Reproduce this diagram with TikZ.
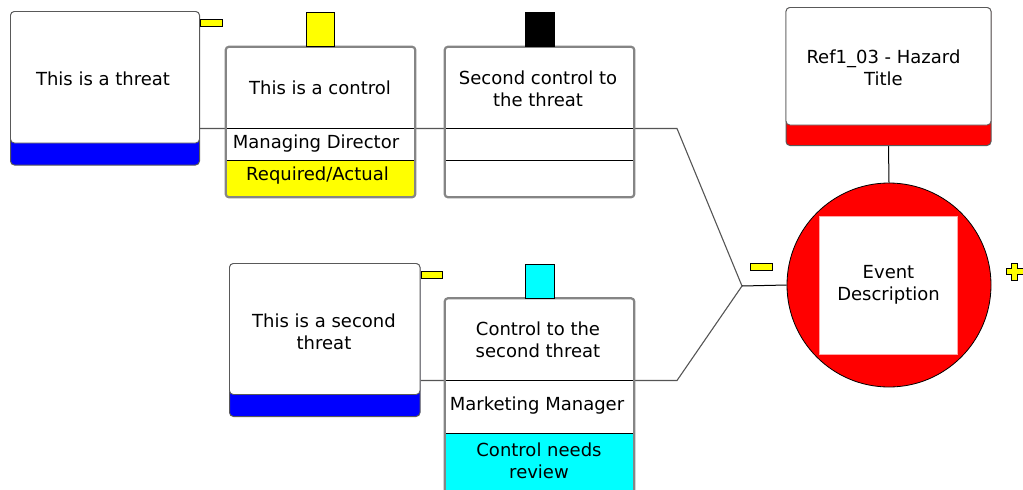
\documentclass[tikz,border=0pt]{standalone}
\usepackage{fontspec}
\setmainfont{DejaVu Sans}
\usetikzlibrary{backgrounds}
\definecolor{bord}{HTML}{858585}
\definecolor{conncol}{HTML}{555555}
\definecolor{cy}{HTML}{00FFFF}
\definecolor{ye}{HTML}{FFFF00}
\definecolor{bl}{HTML}{0000FF}
\definecolor{rd}{HTML}{FF0000}
\begin{document}
\begin{tikzpicture}[x=1pt,y=-1pt,
  txt/.style={align=center, inner sep=0, text=black, font=\fontsize{18}{22}\selectfont},
  conn/.style={draw=conncol, line width=1.1pt},
  boxfill/.style={rectangle, fill=white, draw=none, inner sep=0, rounded corners=3pt},
  ctrlborder/.style={draw=bord, line width=2.2pt, rounded corners=3pt},
  rowline/.style={draw=black, line width=1pt},
  tabst/.style={rectangle, draw=black, line width=0.8pt, inner sep=0},
  threatbox/.style={rectangle, rounded corners=4pt, draw=black!65, line width=1pt, inner sep=0},
  whitetop/.style={fill=white, draw=black!65, line width=0.8pt, rounded corners=4pt},
]
\useasboundingbox (0,0) rectangle (1023,490);
\clip (0,0) rectangle (1023,490);

% ---------- Threat 1 ----------
\node[threatbox, fill=bl, minimum width=189pt, minimum height=153.5pt] (t1) at (105,88.25) {};
\filldraw[whitetop] (10.5,11.5) rectangle (199.5,143);
\node[txt] (t1txt) at (103,79) {This is a threat};
\node[tabst, fill=ye, minimum width=22.5pt, minimum height=6.5pt] (t1tab) at (211.25,22.75) {};

% ---------- Threat 2 ----------
\node[threatbox, fill=bl, minimum width=190.5pt, minimum height=153pt] (t2) at (324.75,340) {};
\filldraw[whitetop] (229.5,263.5) rectangle (420,394.5);
\node[txt] (t2txt) at (324,331.5) {This is a second\\threat};
\node[tabst, fill=ye, minimum width=21pt, minimum height=7.5pt] (t2tab) at (431.5,274.75) {};

% ---------- Control 1 ----------
\node[boxfill, minimum width=189pt, minimum height=150pt] (c1) at (320.5,122) {};
\begin{scope}
  \clip[rounded corners=3pt] (226,47) rectangle (415,197);
  \fill[ye] (226,160) rectangle (415,197);
\end{scope}
\draw[rowline] (226,128.5) rectangle (415,160);
\draw[ctrlborder] (c1.north west) rectangle (c1.south east);
\node[tabst, fill=ye, minimum width=28pt, minimum height=34pt, anchor=south] (c1tab) at (c1.north) {};
\node[txt] (c1txt) at (320,88) {This is a control};
\node[txt] (c1own) at (316,144) {Managing Director};
\node[txt] (c1stat) at (317.5,176) {Required/Actual};

% ---------- Control 2 ----------
\node[boxfill, minimum width=189pt, minimum height=150pt] (c2) at (539.5,122) {};
\draw[rowline] (445,128.5) rectangle (634,160);
\draw[ctrlborder] (c2.north west) rectangle (c2.south east);
\node[tabst, fill=black, minimum width=29pt, minimum height=34pt, anchor=south] (c2tab) at (c2.north) {};
\node[txt] (c2txt) at (538,88.5) {Second control to\\the threat};

% ---------- Control 3 ----------
\node[boxfill, minimum width=189pt, minimum height=206.5pt] (c3) at (539.5,401.75) {};
\begin{scope}
  \clip[rounded corners=3pt] (445,298.5) rectangle (634,505);
  \fill[cy] (445,433.5) rectangle (634,505);
\end{scope}
\draw[rowline] (445,380.5) rectangle (634,433.5);
\draw[ctrlborder] (c3.north west) rectangle (c3.south east);
\node[tabst, fill=cy, minimum width=29pt, minimum height=34pt, anchor=south] (c3tab) at (c3.north) {};
\node[txt] (c3txt) at (538,340) {Control to the\\second threat};
\node[txt] (c3own) at (537,406) {Marketing Manager};
\node[txt] (c3stat) at (539,460.5) {Control needs\\review};

% ---------- Hazard ----------
\node[threatbox, fill=rd, minimum width=205pt, minimum height=138pt] (hz) at (888.5,76.5) {};
\filldraw[whitetop] (786,7.5) rectangle (991,125);
\node[txt] (hztxt) at (883.5,68) {Ref1\_03 - Hazard\\Title};

% ---------- Top event ----------
\node[circle, fill=rd, draw=black, line width=0.8pt, minimum size=204pt, inner sep=0] (ev) at (889,285) {};
\node[rectangle, fill=white, draw=rd!35, line width=0.8pt, minimum size=138pt, inner sep=0] (sq) at (888,285) {};
\node[txt] (evtxt) at (888.5,285) {Event\\Description};

% ---------- minus / plus ----------
\node[tabst, fill=ye, minimum width=22pt, minimum height=6.5pt] (minus) at (761,266.75) {};
\filldraw[fill=ye, draw=black, line width=0.6pt]
  (1011.5,263) -- (1017.5,263) -- (1017.5,268.5) -- (1023.5,268.5) -- (1023.5,274.5)
  -- (1017.5,274.5) -- (1017.5,280) -- (1011.5,280) -- (1011.5,274.5) -- (1006,274.5)
  -- (1006,268.5) -- (1011.5,268.5) -- cycle;

% ---------- connectors ----------
\coordinate (B1) at (677,128.5);
\coordinate (B2) at (677,380.5);
\coordinate (J) at (742,286);
\begin{scope}[on background layer]
  \draw[conn] (t1.east |- B1) -- (B1) -- (J);
  \draw[conn] (t2.east |- B2) -- (B2) -- (J);
  \draw[black, line width=1pt] (J) -- (ev.west);
  \draw[black, line width=1pt] (hz.south) -- (ev.north);
\end{scope}
\end{tikzpicture}
\end{document}
